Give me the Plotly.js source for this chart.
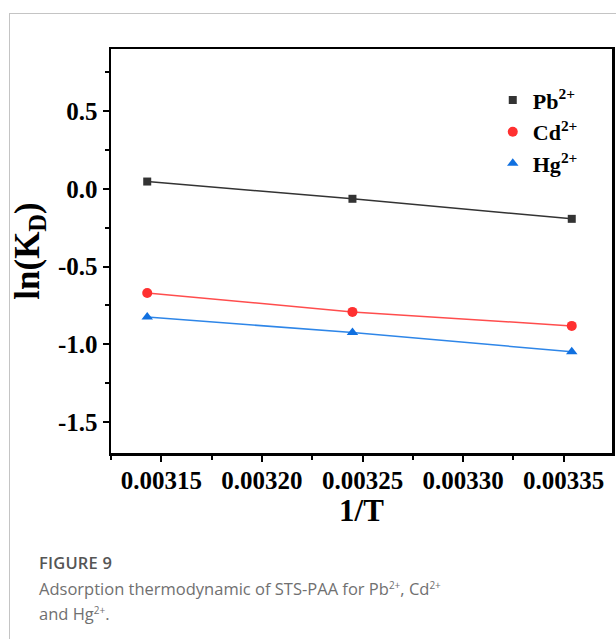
<!DOCTYPE html>
<html>
<head>
<meta charset="utf-8">
<script src="https://cdn.plot.ly/plotly-3.0.1.min.js"></script>
<style>
  html, body { margin: 0; padding: 0; background: #ffffff; }
  body { width: 616px; height: 639px; position: relative; overflow: hidden; }
  #frame { position: absolute; left: 9px; top: 13px; right: 0; bottom: 0;
           border-left: 1px solid #c4c4c4; border-top: 1px solid #c4c4c4; }
  #chart { position: absolute; left: 0; top: 0; width: 616px; height: 639px; }
  .cap { position: absolute; left: 39px; font-family: "Open Sans", "Noto Sans", sans-serif; }
  #fig { top: 551px; font-size: 16.5px; font-weight: 600; color: #555555; letter-spacing: 0.2px; }
  #txt { top: 576px; font-size: 16.5px; color: #707070; line-height: 25px; }
  #txt sup { font-size: 10px; line-height: 0; }
</style>
</head>
<body>
<div id="frame"></div>
<div id="chart"></div>
<div class="cap" id="fig">FIGURE 9</div>
<div class="cap" id="txt">Adsorption thermodynamic of STS-PAA for Pb<sup>2+</sup>, Cd<sup>2+</sup><br>and Hg<sup>2+</sup>.</div>
<script>
// Data
const invT = [0.003143, 0.003245, 0.003354];
const pbLnKd = [0.047, -0.064, -0.193];
const cdLnKd = [-0.670, -0.792, -0.882];
const hgLnKd = [-0.825, -0.925, -1.048];
const seriesNames = ['Pb<sup>2+</sup>', 'Cd<sup>2+</sup>', 'Hg<sup>2+</sup>'];

const xTickVals = [0.00315, 0.00320, 0.00325, 0.00330, 0.00335];
const xTickLabels = ['0.00315', '0.00320', '0.00325', '0.00330', '0.00335'];
const yTickVals = [-1.5, -1.0, -0.5, 0.0, 0.5];
const yTickLabels = ['-1.5', '-1.0', '-0.5', '0.0', '0.5'];

const serif = '"Liberation Serif", "Times New Roman", serif';
const series = [
  {y: pbLnKd, name: seriesNames[0], lc: '#333333', mc: '#333333', sym: 'square', size: 8},
  {y: cdLnKd, name: seriesNames[1], lc: '#ff4d4d', mc: '#ff3030', sym: 'circle', size: 10},
  {y: hgLnKd, name: seriesNames[2], lc: '#2e86e8', mc: '#1070e0', sym: 'triangle-up', size: 10}
];

const traces = [];
series.forEach(s => {
  traces.push({x: invT, y: s.y, mode: 'lines', showlegend: false, hoverinfo: 'skip',
               line: {color: s.lc, width: 1.5}});
});
series.forEach(s => {
  traces.push({x: invT, y: s.y, mode: 'markers', name: s.name,
               marker: {symbol: s.sym, size: s.size, color: s.mc}});
});

const axisCommon = {
  showline: true, linecolor: '#000', linewidth: 2.5, mirror: true,
  ticks: 'outside', ticklen: 6, tickwidth: 2, tickcolor: '#000',
  showgrid: false, zeroline: false,
  tickfont: {family: serif, size: 25, color: '#000', weight: 'bold'}
};

const layout = {
  width: 616, height: 639,
  margin: {l: 111, r: 4, t: 49, b: 186},
  paper_bgcolor: 'rgba(0,0,0,0)', plot_bgcolor: '#ffffff',
  showlegend: true,
  legend: {x: 0.762, y: 0.925, xanchor: 'left', yanchor: 'top',
           bgcolor: 'rgba(0,0,0,0)', borderwidth: 0,
           font: {family: serif, size: 22, color: '#000', weight: 'bold'},
           tracegroupgap: 0, itemwidth: 30},
  xaxis: Object.assign({}, axisCommon, {
    range: [0.003125, 0.003374],
    tickmode: 'array', tickvals: xTickVals, ticktext: xTickLabels,
    ticklabelstandoff: -3,
    minor: {dtick: 0.000025, tick0: 0.003125, ticks: 'outside', ticklen: 4, tickwidth: 2, tickcolor: '#000'},
    title: {text: '<b>1/T</b>', font: {family: serif, size: 31, color: '#000'}, standoff: 6}
  }),
  yaxis: Object.assign({}, axisCommon, {
    range: [-1.7, 0.9],
    tickmode: 'array', tickvals: yTickVals, ticktext: yTickLabels,
    minor: {dtick: 0.25, tick0: 0, ticks: 'outside', ticklen: 4, tickwidth: 2, tickcolor: '#000'},
    title: {text: '<b>ln(K<sub>D</sub>)</b>', font: {family: serif, size: 35, color: '#000'}, standoff: 8}
  })
};

Plotly.newPlot('chart', traces, layout, {displayModeBar: false, staticPlot: true});
</script>
</body>
</html>
